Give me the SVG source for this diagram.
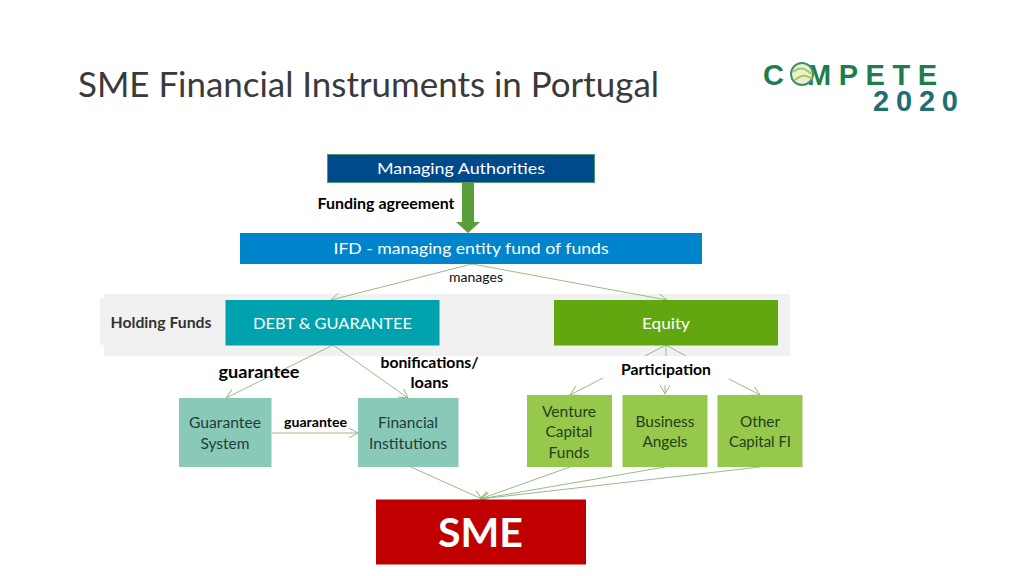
<svg xmlns="http://www.w3.org/2000/svg" width="1024" height="576" viewBox="0 0 1024 576">
<style>
text{font-family:Lato,"Open Sans","Liberation Sans",sans-serif;text-anchor:middle}
.w{fill:#fff;font-size:16px}
.d{fill:#1f3d38;font-size:15.5px}
.g{fill:#24401a;font-size:15.5px}
.b{fill:#000;font-weight:700;font-size:14.5px}
.c{fill:none;stroke:#8fb27a;stroke-width:.9}
.l{fill:none;stroke:#8fb27a;stroke-width:.9}
</style>
<defs>
<marker id="a" markerWidth="12" markerHeight="12" refX="10" refY="5" orient="auto" markerUnits="userSpaceOnUse"><path d="M1 0L10 5L1 10" fill="none" stroke="#8fb27a" stroke-width=".9"/></marker>
</defs>
<rect width="1024" height="576" fill="#fff"/>
<text id="title" x="78" y="97" style="text-anchor:start;font-size:35px;fill:#3a3a3a" textLength="581" lengthAdjust="spacingAndGlyphs">SME Financial Instruments in Portugal</text>
<g id="logo">
<text x="763" y="85" style="text-anchor:start;font-size:29px;font-weight:900;fill:#1f7d4d;font-family:'Liberation Sans',sans-serif" textLength="174" lengthAdjust="spacing">C  MPETE</text>
<circle cx="802" cy="74" r="11" fill="#e8f1d8" stroke="#3f8f66" stroke-width="2"/>
<path d="M793 72Q802 64 811 74M795 80Q804 72 812 79" fill="none" stroke="#a9c94c" stroke-width="2"/>
<text x="873" y="111" style="text-anchor:start;font-size:29px;font-weight:900;fill:#1d6f73;font-family:'Liberation Sans',sans-serif" textLength="85" lengthAdjust="spacing">2020</text>
</g>
<g id="holding-funds">
<rect x="104" y="294" width="686" height="62" fill="#f1f1f1"/>
<rect x="100" y="298" width="12" height="47" rx="3" fill="#f1f1f1"/>
<text x="161" y="328" style="font-size:14.5px;font-weight:700;fill:#333" textLength="101" lengthAdjust="spacingAndGlyphs">Holding Funds</text>
</g>
<g id="connectors">
<path class="c" marker-end="url(#a)" d="M472 264L331 300"/>
<path class="c" marker-end="url(#a)" d="M472 264L667 300"/>
<path class="c" marker-end="url(#a)" d="M333 345L226 398"/>
<path class="c" marker-end="url(#a)" d="M333 345L408 398"/>
<path class="l" d="M666 345L645 356"/>
<path class="l" d="M666 345V356"/>
<path class="l" d="M666 345L686 356"/>
<path class="c" marker-end="url(#a)" d="M603 378L570 395"/>
<path class="c" marker-end="url(#a)" d="M665 385V394"/>
<path class="c" marker-end="url(#a)" d="M729 379L760 395"/>
<path class="c" marker-end="url(#a)" d="M272 433H358"/>
<path class="c" marker-end="url(#a)" d="M411 467L482 499"/>
<path class="c" marker-end="url(#a)" d="M570 467L480 499"/>
<path class="c" marker-end="url(#a)" d="M665 467L480 499"/>
<path class="c" marker-end="url(#a)" d="M760 467L480 499"/>
<path fill="#5a9e3a" d="M462 182H474V222H480L468 233L456 222H462Z"/>
</g>
<g id="managing-authorities">
<rect x="327.500" y="154.500" width="267" height="28" fill="#004a8c" stroke="#4f9a6a"/>
<text class="w" x="461" y="174" textLength="168" lengthAdjust="spacingAndGlyphs">Managing Authorities</text>
</g>
<text class="b" x="386" y="209" textLength="137" lengthAdjust="spacingAndGlyphs">Funding agreement</text>
<g id="ifd">
<rect x="240" y="233" width="462" height="31" fill="#0084cc"/>
<text class="w" x="471" y="254" textLength="275" lengthAdjust="spacingAndGlyphs">IFD - managing entity fund of funds</text>
</g>
<text x="476" y="282" style="font-size:12.500px;fill:#111" textLength="54" lengthAdjust="spacingAndGlyphs">manages</text>
<g id="debt">
<rect x="225.500" y="300" width="214" height="45.500" fill="#00a3ad"/>
<text class="w" x="332.500" y="329" textLength="159" lengthAdjust="spacingAndGlyphs">DEBT &amp; GUARANTEE</text>
</g>
<g id="equity">
<rect x="554" y="300" width="224" height="45.500" fill="#62a70f"/>
<text class="w" x="666" y="329" textLength="48" lengthAdjust="spacingAndGlyphs">Equity</text>
</g>
<text x="259" y="378" style="font-size:16.500px;font-weight:700;fill:#000" textLength="81" lengthAdjust="spacingAndGlyphs">guarantee</text>
<text class="b" x="429.500" y="368" textLength="98" lengthAdjust="spacingAndGlyphs">bonifications/</text>
<text class="b" x="429.500" y="388" textLength="38" lengthAdjust="spacingAndGlyphs">loans</text>
<text class="b" x="666" y="375" textLength="90" lengthAdjust="spacingAndGlyphs">Participation</text>
<g id="guarantee-system">
<rect x="179" y="398" width="92.500" height="69" fill="#88c9b8"/>
<text class="d" x="225" y="428" textLength="72" lengthAdjust="spacingAndGlyphs">Guarantee</text>
<text class="d" x="225" y="449" textLength="49" lengthAdjust="spacingAndGlyphs">System</text>
</g>
<text class="b" x="315.500" y="427" style="font-size:13px" textLength="63" lengthAdjust="spacingAndGlyphs">guarantee</text>
<g id="financial-institutions">
<rect x="358" y="398" width="100.500" height="69" fill="#88c9b8"/>
<text class="d" x="408" y="428" textLength="60" lengthAdjust="spacingAndGlyphs">Financial</text>
<text class="d" x="408" y="449" textLength="78" lengthAdjust="spacingAndGlyphs">Institutions</text>
</g>
<g id="venture">
<rect x="527" y="395" width="85" height="72" fill="#96c84b"/>
<text class="g" x="569" y="417" textLength="54" lengthAdjust="spacingAndGlyphs">Venture</text>
<text class="g" x="569" y="437" textLength="47" lengthAdjust="spacingAndGlyphs">Capital</text>
<text class="g" x="569" y="458" textLength="41" lengthAdjust="spacingAndGlyphs">Funds</text>
</g>
<g id="angels">
<rect x="622.500" y="395" width="85" height="72" fill="#96c84b"/>
<text class="g" x="665" y="427" textLength="59" lengthAdjust="spacingAndGlyphs">Business</text>
<text class="g" x="665" y="447" textLength="45" lengthAdjust="spacingAndGlyphs">Angels</text>
</g>
<g id="other">
<rect x="717.500" y="395" width="85" height="72" fill="#96c84b"/>
<text class="g" x="760" y="427" textLength="40" lengthAdjust="spacingAndGlyphs">Other</text>
<text class="g" x="760" y="447" textLength="62" lengthAdjust="spacingAndGlyphs">Capital FI</text>
</g>
<g id="sme">
<rect x="376" y="499.500" width="210" height="65" fill="#c00000"/>
<text x="480.500" y="547" style="font-size:41px;font-weight:700;fill:#fff" textLength="85" lengthAdjust="spacingAndGlyphs">SME</text>
</g>
</svg>
